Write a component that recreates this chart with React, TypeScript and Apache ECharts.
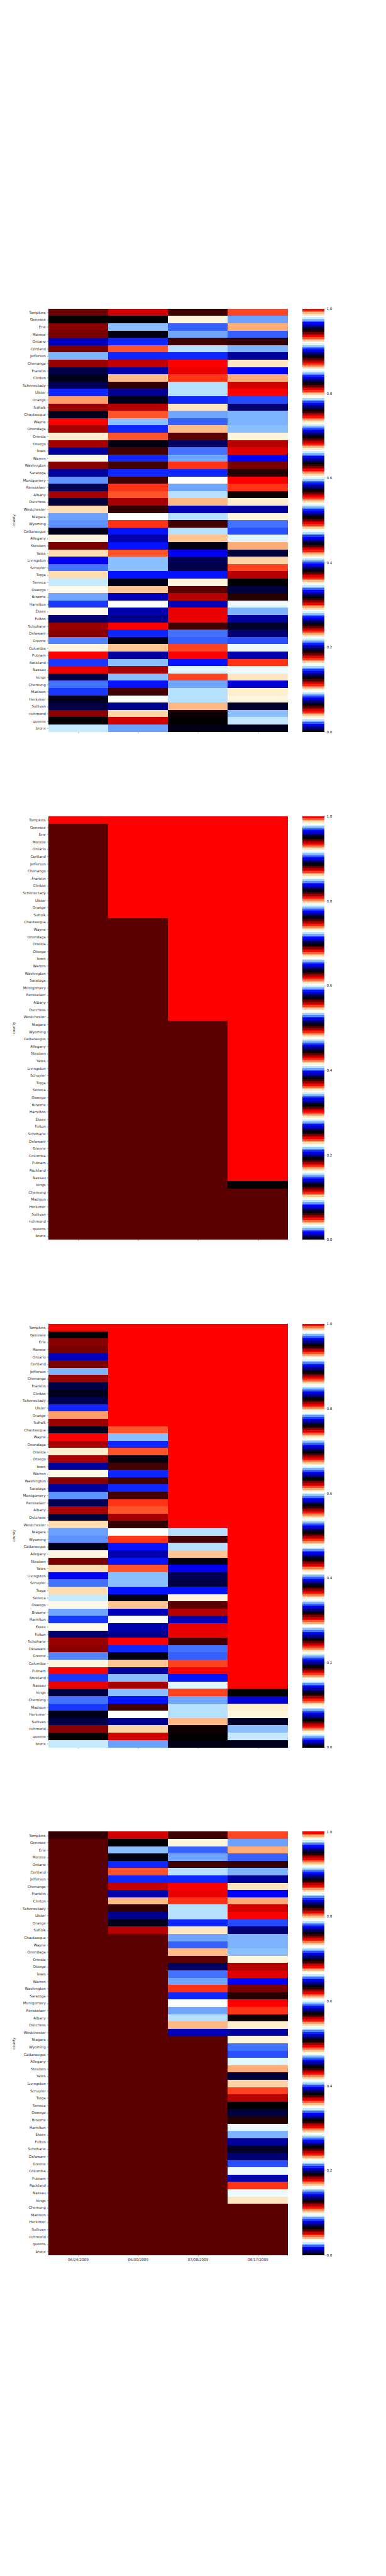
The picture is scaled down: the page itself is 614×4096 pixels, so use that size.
import React, { useEffect, useRef } from "react";
import * as echarts from "echarts";

const counties = [
  "Tompkins", "Genesee", "Erie", "Monroe", "Ontario", "Cortland", "Jefferson", "Chenango",
  "Franklin", "Clinton", "Schenectady", "Ulster", "Orange", "Suffolk", "Chautauqua", "Wayne",
  "Onondaga", "Oneida", "Otsego", "lewis", "Warren", "Washington", "Saratoga", "Montgomery",
  "Rensselaer", "Albany", "Dutchess", "Westchester", "Niagara", "Wyoming", "Cattaraugus",
  "Allegany", "Steuben", "Yates", "Livingston", "Schuyler", "Tioga", "Seneca", "Oswego",
  "Broome", "Hamilton", "Essex", "Fulton", "Schoharie", "Delaware", "Greene", "Columbia",
  "Putnam", "Rockland", "Nassau", "kings", "Chemung", "Madison", "Herkimer", "Sullivan",
  "richmond", "queens", "bronx",
];

const dates = ["06/24/2009", "06/30/2009", "07/08/2009", "08/17/2009"];

const colorbarTicks = [0, 0.2, 0.4, 0.6, 0.8, 1.0];

// panel 1: all values
const panel1 = [
  [0.2471, 0.3686, 0.3765, 0.2353],
  [0, 0, 0.098, 0.0863],
  [0.3725, 0.2784, 0.3373, 0.2941],
  [0.3098, 0.1922, 0.4039, 0.3373],
  [0.3922, 0.2078, 0.3765, 0.3137],
  [0.3098, 0.6157, 0.0902, 0.3412],
  [0.3412, 0.2078, 0.2078, 0.2],
  [0.1176, 0.3059, 0.302, 0.2902],
  [0.2588, 0.1373, 0.1765, 0.3333],
  [0.1294, 0.0392, 0.1725, 0.2941],
  [0.1961, 0.3137, 0.0902, 0.051],
  [0.2078, 0.2627, 0.0902, 0.302],
  [0.2314, 0.1294, 0.2078, 0.0824],
  [0.1176, 0.2431, 0.2902, 0.3882],
  [0.1294, 0.6157, 0.4039, 0.3412],
  [0.302, 0.2784, 0.3373, 0.3412],
  [0.1804, 0.2078, 0.0392, 0.2784],
  [0.3529, 0.6157, 0.502, 0.098],
  [0.1804, 0.1922, 0.1333, 0.2431],
  [0.2, 0.0588, 0.2745, 0.1137],
  [0.1608, 0.2078, 0.4039, 0.3333],
  [0.3725, 0.0588, 0.1725, 0.3098],
  [0.2, 0.2078, 0.2078, 0.251],
  [0.149, 0.0588, 0.349, 0.302],
  [0.1961, 0.1725, 0.4039, 0.1725],
  [0.1804, 0.6157, 0.0902, 0.1255],
  [0.3216, 0.1804, 0.3569, 0.3529],
  [0.2275, 0.3137, 0.0745, 0.2],
  [0.0863, 0.349, 0.0902, 0.098],
  [0.149, 0.1725, 0.0588, 0.2745],
  [0.1294, 0.2706, 0.0902, 0.4],
  [0.098, 0.1373, 0.4196, 0.2196],
  [0.3098, 0.2706, 0.1922, 0.2941],
  [0.2275, 0.6157, 0.1412, 0.3216],
  [0.1412, 0.2784, 0.1961, 0.1647],
  [0.2745, 0.2784, 0.2588, 0.5529],
  [0.2275, 0.2706, 0.2706, 0.2431],
  [0.3451, 0.1294, 0.098, 0],
  [0.1608, 0.4196, 0.502, 0.3216],
  [0.4039, 0.0745, 0.2431, 0.251],
  [0.1451, 0.349, 0.0745, 0.1569],
  [0.1608, 0.1373, 0.1765, 0.3412],
  [0.0706, 0.2627, 0.1765, 0.2],
  [0.1176, 0.302, 0.0588, 0.0667],
  [0.3725, 0.2078, 0.2745, 0.3882],
  [0.2118, 0.1922, 0.3373, 0.4],
  [0.098, 0.4196, 0.5529, 0.1569],
  [0.302, 0.2, 0.302, 0.1373],
  [0.1451, 0.2784, 0.2706, 0.1725],
  [0.1765, 0.1804, 0.2196, 0.1569],
  [0.2588, 0.2784, 0.5529, 0.2902],
  [0.2745, 0.2706, 0.4039, 0.2667],
  [0.1451, 0.0588, 0.0902, 0.3529],
  [0.1294, 0.349, 0.0902, 0.098],
  [0.2588, 0.2627, 0.3569, 0.3843],
  [0.3725, 0.1647, 0.1255, 0.2784],
  [0, 0.3686, 0, 0.0275],
  [0.3451, 0.0863, 0.1922, 0.1294],
];

// panel 2: indicator values
const panel2 = [
  [1, 1, 1, 1],
  [0.502, 1, 1, 1], [0.502, 1, 1, 1], [0.502, 1, 1, 1], [0.502, 1, 1, 1], [0.502, 1, 1, 1],
  [0.502, 1, 1, 1], [0.502, 1, 1, 1], [0.502, 1, 1, 1], [0.502, 1, 1, 1], [0.502, 1, 1, 1],
  [0.502, 1, 1, 1], [0.502, 1, 1, 1], [0.502, 1, 1, 1],
  [0.502, 0.502, 1, 1], [0.502, 0.502, 1, 1], [0.502, 0.502, 1, 1], [0.502, 0.502, 1, 1],
  [0.502, 0.502, 1, 1], [0.502, 0.502, 1, 1], [0.502, 0.502, 1, 1], [0.502, 0.502, 1, 1],
  [0.502, 0.502, 1, 1], [0.502, 0.502, 1, 1], [0.502, 0.502, 1, 1], [0.502, 0.502, 1, 1],
  [0.502, 0.502, 1, 1], [0.502, 0.502, 1, 1],
  [0.502, 0.502, 0.502, 1], [0.502, 0.502, 0.502, 1], [0.502, 0.502, 0.502, 1],
  [0.502, 0.502, 0.502, 1], [0.502, 0.502, 0.502, 1], [0.502, 0.502, 0.502, 1],
  [0.502, 0.502, 0.502, 1], [0.502, 0.502, 0.502, 1], [0.502, 0.502, 0.502, 1],
  [0.502, 0.502, 0.502, 1], [0.502, 0.502, 0.502, 1], [0.502, 0.502, 0.502, 1],
  [0.502, 0.502, 0.502, 1], [0.502, 0.502, 0.502, 1], [0.502, 0.502, 0.502, 1],
  [0.502, 0.502, 0.502, 1], [0.502, 0.502, 0.502, 1], [0.502, 0.502, 0.502, 1],
  [0.502, 0.502, 0.502, 1], [0.502, 0.502, 0.502, 1], [0.502, 0.502, 0.502, 1],
  [0.502, 0.502, 0.502, 1],
  [0.502, 0.502, 0.502, 0],
  [0.502, 0.502, 0.502, 0.502], [0.502, 0.502, 0.502, 0.502], [0.502, 0.502, 0.502, 0.502],
  [0.502, 0.502, 0.502, 0.502], [0.502, 0.502, 0.502, 0.502], [0.502, 0.502, 0.502, 0.502],
  [0.502, 0.502, 0.502, 0.502],
];

// panel 3
const panel3 = [
  [1, 1, 1, 1],
  [0, 1, 1, 1],
  [0.3725, 1, 1, 1],
  [0.3098, 1, 1, 1],
  [0.3922, 1, 1, 1],
  [0.3098, 1, 1, 1],
  [0.3412, 1, 1, 1],
  [0.1176, 1, 1, 1],
  [0.2588, 1, 1, 1],
  [0.1294, 1, 1, 1],
  [0.1961, 1, 1, 1],
  [0.2078, 1, 1, 1],
  [0.2314, 1, 1, 1],
  [0.1176, 1, 1, 1],
  [0.1294, 0.6157, 1, 1],
  [0.302, 0.2784, 1, 1],
  [0.1804, 0.2078, 1, 1],
  [0.3529, 0.6157, 1, 1],
  [0.1804, 0.1922, 1, 1],
  [0.2, 0.0588, 1, 1],
  [0.1608, 0.2078, 1, 1],
  [0.3725, 0.0588, 1, 1],
  [0.2, 0.2078, 1, 1],
  [0.149, 0.0588, 1, 1],
  [0.1961, 0.1725, 1, 1],
  [0.1804, 0.6157, 1, 1],
  [0.3216, 0.1804, 1, 1],
  [0.2275, 0.3137, 1, 1],
  [0.0863, 0.349, 0.0902, 1],
  [0.149, 0.1725, 0.0588, 1],
  [0.1294, 0.2706, 0.0902, 1],
  [0.098, 0.1373, 0.4196, 1],
  [0.3098, 0.2706, 0.1922, 1],
  [0.2275, 0.6157, 0.1412, 1],
  [0.1412, 0.2784, 0.1961, 1],
  [0.2745, 0.2784, 0.2588, 1],
  [0.2275, 0.2706, 0.2706, 1],
  [0.3451, 0.1294, 0.098, 1],
  [0.1608, 0.4196, 0.502, 1],
  [0.4039, 0.0745, 0.2431, 1],
  [0.1451, 0.349, 0.0745, 1],
  [0.1608, 0.1373, 0.1765, 1],
  [0.0706, 0.2627, 0.1765, 1],
  [0.1176, 0.302, 0.0588, 1],
  [0.3725, 0.2078, 0.2745, 1],
  [0.2118, 0.1922, 0.3373, 1],
  [0.098, 0.4196, 0.5529, 1],
  [0.302, 0.2, 0.302, 1],
  [0.1451, 0.2784, 0.2706, 1],
  [0.1765, 0.1804, 0.2196, 1],
  [0.2588, 0.2784, 0.5529, 0],
  [0.2745, 0.2706, 0.4039, 0.2667],
  [0.1451, 0.0588, 0.0902, 0.3529],
  [0.1294, 0.349, 0.0902, 0.098],
  [0.2588, 0.2627, 0.3569, 0.3843],
  [0.3725, 0.1647, 0.1255, 0.2784],
  [0, 0.3686, 0, 0.0275],
  [0.3451, 0.0863, 0.1922, 0.1294],
];

// panel 4
const panel4 = [
  [0.3137, 0.3686, 0.3765, 0.2353],
  [0.502, 0, 0.098, 0.0863],
  [0.502, 0.2784, 0.3373, 0.2941],
  [0.502, 0.1922, 0.4039, 0.3373],
  [0.502, 0.2078, 0.3765, 0.3137],
  [0.502, 0.6157, 0.0902, 0.3412],
  [0.502, 0.2078, 0.2078, 0.2],
  [0.502, 0.3059, 0.302, 0.2902],
  [0.502, 0.1373, 0.1765, 0.3333],
  [0.502, 0.0392, 0.1725, 0.2941],
  [0.502, 0.3137, 0.0902, 0.051],
  [0.502, 0.2627, 0.0902, 0.302],
  [0.502, 0.1294, 0.2078, 0.0824],
  [0.502, 0.2431, 0.2902, 0.3882],
  [0.502, 0.502, 0.4039, 0.3412],
  [0.502, 0.502, 0.3373, 0.3412],
  [0.502, 0.502, 0.0392, 0.2784],
  [0.502, 0.502, 0.502, 0.098],
  [0.502, 0.502, 0.1333, 0.2431],
  [0.502, 0.502, 0.2745, 0.1137],
  [0.502, 0.502, 0.4039, 0.3333],
  [0.502, 0.502, 0.1725, 0.3098],
  [0.502, 0.502, 0.2078, 0.251],
  [0.502, 0.502, 0.349, 0.302],
  [0.502, 0.502, 0.4039, 0.1725],
  [0.502, 0.502, 0.0902, 0.1255],
  [0.502, 0.502, 0.3569, 0.3529],
  [0.502, 0.502, 0.0745, 0.2],
  [0.502, 0.502, 0.502, 0.098],
  [0.502, 0.502, 0.502, 0.2745],
  [0.502, 0.502, 0.502, 0.4],
  [0.502, 0.502, 0.502, 0.2196],
  [0.502, 0.502, 0.502, 0.2941],
  [0.502, 0.502, 0.502, 0.3216],
  [0.502, 0.502, 0.502, 0.1647],
  [0.502, 0.502, 0.502, 0.5529],
  [0.502, 0.502, 0.502, 0.2431],
  [0.502, 0.502, 0.502, 0],
  [0.502, 0.502, 0.502, 0.3216],
  [0.502, 0.502, 0.502, 0.251],
  [0.502, 0.502, 0.502, 0.1569],
  [0.502, 0.502, 0.502, 0.3412],
  [0.502, 0.502, 0.502, 0.2],
  [0.502, 0.502, 0.502, 0.0667],
  [0.502, 0.502, 0.502, 0.3882],
  [0.502, 0.502, 0.502, 0.4],
  [0.502, 0.502, 0.502, 0.1569],
  [0.502, 0.502, 0.502, 0.1373],
  [0.502, 0.502, 0.502, 0.1725],
  [0.502, 0.502, 0.502, 0.1569],
  [0.502, 0.502, 0.502, 0.2902],
  [0.502, 0.502, 0.502, 0.502], [0.502, 0.502, 0.502, 0.502], [0.502, 0.502, 0.502, 0.502],
  [0.502, 0.502, 0.502, 0.502], [0.502, 0.502, 0.502, 0.502], [0.502, 0.502, 0.502, 0.502],
  [0.502, 0.502, 0.502, 0.502],
];

const panels = [panel1, panel2, panel3, panel4];

// matplotlib "flag_r" colormap, 256-entry lookup table
function flagR(): string[] {
  const clip = (v: number) => Math.min(1, Math.max(0, v));
  const hx = (v: number) => Math.round(clip(v) * 255).toString(16).padStart(2, "0");
  const out: string[] = [];
  for (let i = 0; i < 256; i++) {
    const t = (1 - i / 255) * 31.5;
    const r = 0.75 * Math.sin((t + 0.25) * Math.PI) + 0.5;
    const g = Math.sin(t * Math.PI);
    const b = 0.75 * Math.sin((t - 0.25) * Math.PI) + 0.5;
    out.push("#" + hx(r) + hx(g) + hx(b));
  }
  return out;
}

const S = 4096 / 7200;
const FONT = "DejaVu Sans";
const TXT = "#262626";
const FS = 10 * S;
const HEAT_LEFT = 135 * S;
const HEAT_W = 670 * S;
const CB_LEFT = 846 * S;
const CB_W = 60 * S;
const PANEL_H = 1183 * S;
const PANEL_TOPS = [863, 2282, 3701, 5120].map((v) => v * S);
const TICK_LEN = 3.5 * S;

function buildOption() {
  const lut = flagR();
  const levels = lut.map((_, i) => i / 255);
  const grid: any[] = [];
  const xAxis: any[] = [];
  const yAxis: any[] = [];
  const series: any[] = [];
  const tickStyle = { color: TXT, width: 0.8 * S };

  panels.forEach((rows, k) => {
    grid.push({ left: HEAT_LEFT, top: PANEL_TOPS[k], width: HEAT_W, height: PANEL_H });
    xAxis.push({
      type: "category",
      gridIndex: k,
      data: dates,
      axisLine: { show: false },
      axisTick: { show: true, alignWithLabel: true, length: TICK_LEN, lineStyle: tickStyle },
      axisLabel: { show: k === 3, fontSize: FS, color: TXT, fontFamily: FONT, margin: 2 * TICK_LEN },
      splitLine: { show: false },
    });
    yAxis.push({
      type: "category",
      gridIndex: k,
      data: counties,
      inverse: true,
      name: "county",
      nameLocation: "middle",
      nameRotate: 90,
      nameGap: 44,
      nameTextStyle: { fontSize: FS, color: TXT, fontFamily: FONT },
      axisLine: { show: false },
      axisTick: { show: true, alignWithLabel: true, length: TICK_LEN, lineStyle: tickStyle },
      axisLabel: { interval: 0, fontSize: FS, color: TXT, fontFamily: FONT, margin: 2 * TICK_LEN },
      splitLine: { show: false },
    });
    const cells: number[][] = [];
    rows.forEach((row, r) => row.forEach((v, c) => cells.push([c, r, v])));
    series.push({
      type: "heatmap",
      xAxisIndex: k,
      yAxisIndex: k,
      data: cells,
      emphasis: { disabled: true },
      progressive: 0,
    });
  });

  // colorbars
  panels.forEach((_, k) => {
    grid.push({ left: CB_LEFT, top: PANEL_TOPS[k], width: CB_W, height: PANEL_H });
    xAxis.push({
      type: "category",
      gridIndex: 4 + k,
      data: [""],
      axisLine: { show: false },
      axisTick: { show: false },
      axisLabel: { show: false },
      splitLine: { show: false },
    });
    yAxis.push({
      type: "category",
      gridIndex: 4 + k,
      data: levels.map((_, i) => String(i)),
      axisLine: { show: false },
      axisTick: { show: false },
      axisLabel: { show: false },
      splitLine: { show: false },
    });
    series.push({
      type: "heatmap",
      xAxisIndex: 4 + k,
      yAxisIndex: 4 + k,
      data: levels.map((v, i) => [0, i, v]),
      emphasis: { disabled: true },
      progressive: 0,
    });
  });
  panels.forEach((_, k) => {
    yAxis.push({
      type: "value",
      gridIndex: 4 + k,
      position: "right",
      min: colorbarTicks[0],
      max: colorbarTicks[colorbarTicks.length - 1],
      interval: 0.2,
      axisLine: { show: false },
      axisTick: { show: true, length: TICK_LEN, lineStyle: tickStyle },
      axisLabel: {
        fontSize: FS,
        color: TXT,
        fontFamily: FONT,
        margin: 2 * TICK_LEN,
        formatter: (v: number) => v.toFixed(1),
      },
      splitLine: { show: false },
    });
  });

  return {
    animation: false,
    backgroundColor: "#ffffff",
    grid,
    xAxis,
    yAxis,
    visualMap: [
      {
        type: "continuous",
        show: false,
        min: 0,
        max: 1,
        seriesIndex: [0, 1, 2, 3, 4, 5, 6, 7],
        inRange: { color: lut },
      },
    ],
    series,
  };
}

export default function App() {
  const ref = useRef<HTMLDivElement>(null);
  useEffect(() => {
    document.body.style.margin = "0";
    const chart = echarts.init(ref.current!, undefined, { renderer: "svg", width: 614, height: 4096 });
    chart.setOption(buildOption() as any);
    return () => chart.dispose();
  }, []);
  return (
    <>
      <style>{`.heatwrap svg path:not([fill="none"]) { shape-rendering: crispEdges; }`}</style>
      <div
        ref={ref}
        className="heatwrap"
        style={{ position: "absolute", left: 0, top: 0, width: 614, height: 4096 }}
      />
    </>
  );
}
